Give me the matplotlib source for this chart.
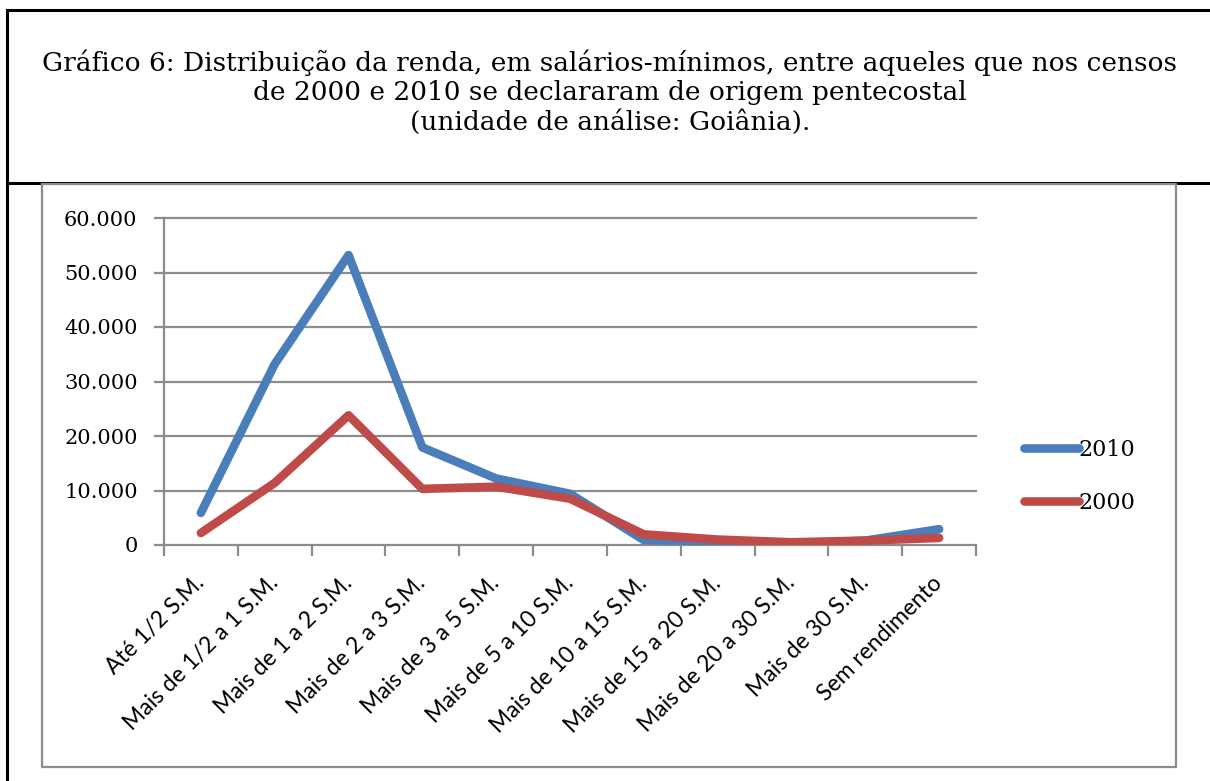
import matplotlib
matplotlib.use("Agg")
import matplotlib.pyplot as plt
from matplotlib.lines import Line2D
from matplotlib.ticker import FuncFormatter, MultipleLocator

# ── data ──────────────────────────────────────────────────────────────────────
categories = [
    "Até 1/2 S.M.", "Mais de 1/2 a 1 S.M.", "Mais de 1 a 2 S.M.",
    "Mais de 2 a 3 S.M.", "Mais de 3 a 5 S.M.", "Mais de 5 a 10 S.M.",
    "Mais de 10 a 15 S.M.", "Mais de 15 a 20 S.M.", "Mais de 20 a 30 S.M.",
    "Mais de 30 S.M.", "Sem rendimento",
]
renda_2010 = [5900, 33200, 53200, 17900, 12200, 9400, 900, 700, 300, 800, 2900]
renda_2000 = [2200, 11400, 23800, 10300, 10700, 8500, 1950, 1000, 500, 800, 1300]
y_ticks = [0, 10000, 20000, 30000, 40000, 50000, 60000]

title = ("Gráfico 6: Distribuição da renda, em salários-mínimos, entre aqueles que nos censos\n"
         "de 2000 e 2010 se declararam de origem pentecostal\n"
         "(unidade de análise: Goiânia).")

BLUE = "#4A7EBB"
RED  = "#BE4B48"
GRID = "#8c8c8c"
W, H = 1210, 781

fig = plt.figure(figsize=(W / 100, H / 100), dpi=100)
fig.patch.set_facecolor("white")

def fx(px): return px / W
def fy(py): return 1 - py / H

# ── frame lines (outer box, divider, inner chart border) ─────────────────────
for xs, ys, c, lw in [
    ([7, W], [10, 10], "black", 2.2),
    ([7, W], [183, 183], "black", 2.2),
    ([7, 7], [10, H], "black", 2.2),
    ([42, 1176, 1176, 42, 42], [184, 184, 767, 767, 184], GRID, 1.6),
]:
    fig.add_artist(Line2D([fx(x) for x in xs], [fy(y) for y in ys],
                          color=c, lw=lw, transform=fig.transFigure))

fig.text(fx(610), fy(92), title, ha="center", va="center",
         fontsize=19, family="DejaVu Serif", linespacing=1.2)

# ── chart ─────────────────────────────────────────────────────────────────────
ax = fig.add_axes([fx(164), fy(545), fx(976) - fx(164), fy(218) - fy(545)])
x = list(range(len(categories)))
ax.plot(x, renda_2010, color=BLUE, lw=6.2, solid_capstyle="round",
        solid_joinstyle="round", label="2010", zorder=3)
ax.plot(x, renda_2000, color=RED, lw=6.2, solid_capstyle="round",
        solid_joinstyle="round", label="2000", zorder=4)

ax.set_xlim(-0.5, len(categories) - 0.5)
ax.set_ylim(0, 60000)
ax.set_yticks(y_ticks)
ax.yaxis.set_major_formatter(FuncFormatter(lambda v, p: f"{int(v):,}".replace(",", ".")))
for v in y_ticks[1:]:
    ax.axhline(v, color=GRID, lw=1.6, zorder=1, clip_on=False)

ax.set_xticks(x)
ax.set_xticklabels(categories, rotation=45, ha="right", va="center",
                   rotation_mode="anchor", fontsize=16.5, family="Lato")
ax.xaxis.set_minor_locator(MultipleLocator(1, offset=0.5))
ax.tick_params(axis="x", which="major", length=0, pad=25)
ax.tick_params(axis="x", which="minor", length=8, width=1.6, color=GRID, direction="out")
ax.tick_params(axis="y", length=7, width=1.6, color=GRID, labelsize=15, pad=12)
for lab in ax.get_yticklabels():
    lab.set_family("DejaVu Serif")

for s in ["top", "right"]:
    ax.spines[s].set_visible(False)
for s in ["left", "bottom"]:
    ax.spines[s].set_color(GRID)
    ax.spines[s].set_linewidth(1.6)

leg = ax.legend(loc="upper left", bbox_to_anchor=(fx(1013), fy(428)),
                bbox_transform=fig.transFigure, frameon=False,
                handlelength=2.45, handletextpad=0.0, labelspacing=1.4,
                borderpad=0, prop={"family": "DejaVu Serif", "size": 16})

fig.savefig("out.png", dpi=100, facecolor="white")
